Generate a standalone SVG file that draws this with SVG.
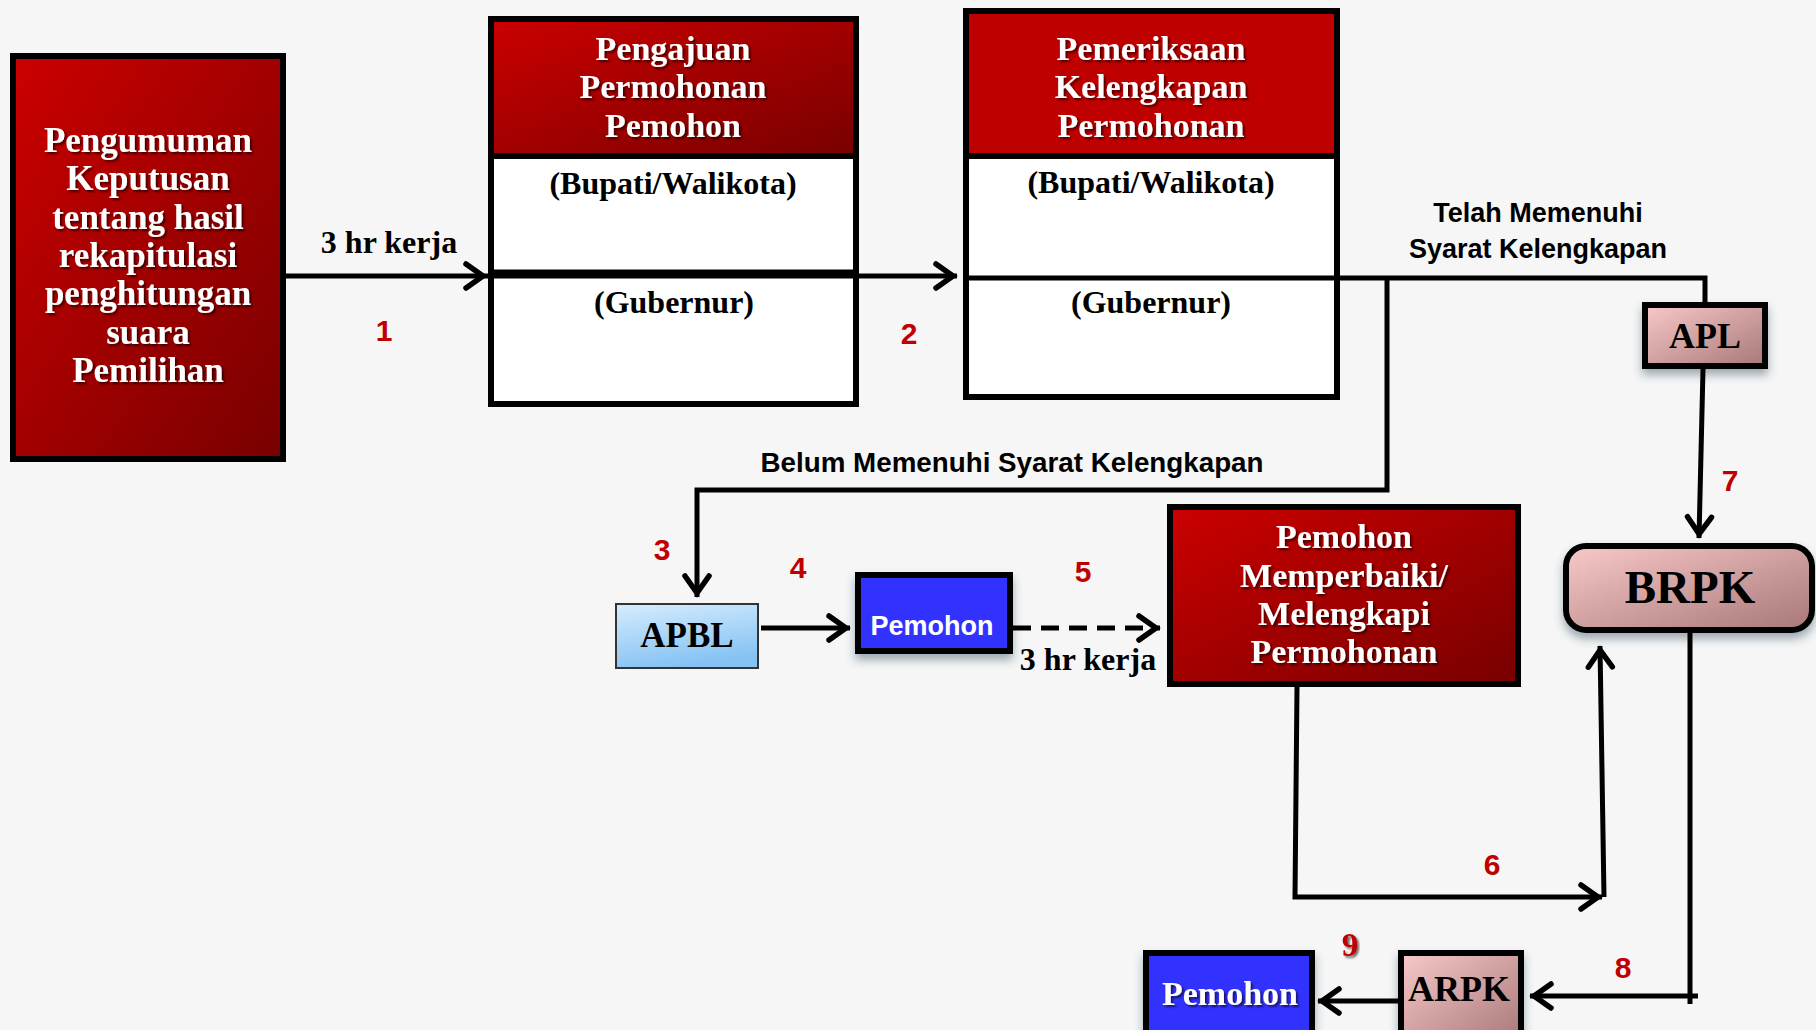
<svg xmlns="http://www.w3.org/2000/svg" width="1816" height="1030" viewBox="0 0 1816 1030">
<defs>
<style>
.ttl{font-family:"Liberation Serif",serif;font-weight:bold;font-size:34px;fill:#fff;text-anchor:middle}
.sub{font-family:"Liberation Serif",serif;font-weight:bold;font-size:32px;fill:#000;text-anchor:middle}
.big{font-family:"Liberation Serif",serif;font-weight:bold;fill:#000;text-anchor:middle}
.lbl{font-family:"Liberation Sans",sans-serif;font-weight:bold;font-size:27px;fill:#000;text-anchor:middle}
.num{font-family:"Liberation Sans",sans-serif;font-weight:bold;font-size:30px;fill:#c00000;text-anchor:middle}
.box{stroke:#000;stroke-width:6}
.edge{fill:none;stroke:#000;stroke-width:5}
</style>
<linearGradient id="red" x1="0" y1="0" x2="1" y2="1">
<stop offset="0" stop-color="#cc0000"/><stop offset="1" stop-color="#780000"/>
</linearGradient>
<linearGradient id="pink" x1="0" y1="0" x2="1" y2="1">
<stop offset="0" stop-color="#f9c9c9"/><stop offset="1" stop-color="#a87878"/>
</linearGradient>
<linearGradient id="lblue" x1="0" y1="0" x2="0.3" y2="1">
<stop offset="0" stop-color="#d6ecfd"/><stop offset="1" stop-color="#86c3f4"/>
</linearGradient>
<filter id="tsh" x="-10%" y="-10%" width="120%" height="130%">
<feDropShadow dx="2" dy="2" stdDeviation="1" flood-color="#000" flood-opacity="0.6"/>
</filter>
<filter id="bsh" x="-20%" y="-20%" width="140%" height="160%">
<feDropShadow dx="0" dy="6" stdDeviation="5" flood-color="#2a4a5a" flood-opacity="0.45"/>
</filter>
<marker id="arr" markerUnits="userSpaceOnUse" viewBox="-30 -18 34 36" markerWidth="34" markerHeight="36" refX="0" refY="0" orient="auto" overflow="visible">
<path d="M-21,-12 L-4,0 L-21,12" fill="none" stroke="#000" stroke-width="5.5" stroke-linecap="round" stroke-linejoin="miter"/>
</marker>
</defs>
<rect x="0" y="0" width="1816" height="1030" fill="#f6f6f6"/>

<g id="pengumuman">
<rect class="box" x="13" y="56" width="270" height="403" fill="url(#red)"/>
<g filter="url(#tsh)" font-size="35">
<text class="ttl" x="148" y="152" style="font-size:35px">Pengumuman</text>
<text class="ttl" x="148" y="190" style="font-size:35px">Keputusan</text>
<text class="ttl" x="148" y="229" style="font-size:35px">tentang hasil</text>
<text class="ttl" x="148" y="267" style="font-size:35px">rekapitulasi</text>
<text class="ttl" x="148" y="305" style="font-size:35px">penghitungan</text>
<text class="ttl" x="148" y="344" style="font-size:35px">suara</text>
<text class="ttl" x="148" y="382" style="font-size:35px">Pemilihan</text>
</g>
</g>

<g id="pengajuan">
<rect class="box" x="491" y="19" width="365" height="385" fill="#fff"/>
<rect class="box" x="491" y="19" width="365" height="137" fill="url(#red)"/>
<line x1="488" y1="272" x2="859" y2="272" stroke="#000" stroke-width="5"/>
<g filter="url(#tsh)">
<text class="ttl" x="673" y="60">Pengajuan</text>
<text class="ttl" x="673" y="98">Permohonan</text>
<text class="ttl" x="673" y="137">Pemohon</text>
</g>
<text class="sub" x="673" y="194">(Bupati/Walikota)</text>
<text class="sub" x="674" y="313">(Gubernur)</text>
</g>

<g id="pemeriksaan">
<rect class="box" x="966" y="11" width="371" height="386" fill="#fff"/>
<rect class="box" x="966" y="11" width="371" height="145" fill="#bf0000"/>
<line x1="963" y1="278" x2="1340" y2="278" stroke="#000" stroke-width="5"/>
<g filter="url(#tsh)">
<text class="ttl" x="1151" y="60">Pemeriksaan</text>
<text class="ttl" x="1151" y="98">Kelengkapan</text>
<text class="ttl" x="1151" y="137">Permohonan</text>
</g>
<text class="sub" x="1151" y="193">(Bupati/Walikota)</text>
<text class="sub" x="1151" y="313">(Gubernur)</text>
</g>

<g id="apl">
<rect class="box" x="1645" y="305" width="120" height="61" fill="url(#pink)" filter="url(#bsh)"/>
<text class="big" x="1705" y="348" font-size="36">APL</text>
</g>

<g id="brpk">
<rect class="box" x="1566" y="546" width="246" height="84" rx="20" fill="url(#pink)" filter="url(#bsh)"/>
<text class="big" x="1690" y="603" font-size="47">BRPK</text>
</g>

<g id="apbl">
<rect x="616" y="604" width="142" height="64" fill="url(#lblue)" stroke="#333" stroke-width="2"/>
<text class="big" x="687" y="647" font-size="35">APBL</text>
</g>

<g id="pemohon1">
<rect class="box" x="858" y="575" width="152" height="76" fill="#3333ff" filter="url(#bsh)"/>
<text x="932" y="635" font-family="'Liberation Sans',sans-serif" font-weight="bold" font-size="27" fill="#fff" text-anchor="middle">Pemohon</text>
</g>

<g id="memperbaiki">
<rect class="box" x="1170" y="507" width="348" height="177" fill="url(#red)"/>
<g filter="url(#tsh)">
<text class="ttl" x="1344" y="548">Pemohon</text>
<text class="ttl" x="1344" y="587">Memperbaiki/</text>
<text class="ttl" x="1344" y="625">Melengkapi</text>
<text class="ttl" x="1344" y="663">Permohonan</text>
</g>
</g>

<g id="arpk">
<rect class="box" x="1401" y="953" width="120" height="90" fill="url(#pink)" filter="url(#bsh)"/>
<text class="big" x="1459" y="1001" font-size="36">ARPK</text>
</g>

<g id="pemohon2">
<rect class="box" x="1146" y="953" width="166" height="90" fill="#3333ff" filter="url(#bsh)"/>
<text class="ttl" x="1230" y="1005" font-size="35" filter="url(#tsh)">Pemohon</text>
</g>

<g id="connectors">
<path class="edge" d="M286,276 H487" marker-end="url(#arr)"/>
<path class="edge" d="M487,276 H957" marker-end="url(#arr)"/>
<path class="edge" d="M1337,278 H1705 V303"/>
<path class="edge" d="M1387,278 V490 H697 V597" marker-end="url(#arr)"/>
<path class="edge" d="M761,628 H850" marker-end="url(#arr)"/>
<path class="edge" d="M1013,628 H1160" stroke-dasharray="18 10" marker-end="url(#arr)"/>
<path class="edge" d="M1703,369 L1699,538" marker-end="url(#arr)"/>
<path class="edge" d="M1297,687 L1295,897 H1602" marker-end="url(#arr)"/>
<path class="edge" d="M1604,897 L1600,646" marker-end="url(#arr)"/>
<path class="edge" d="M1690,633 V1004"/>
<path class="edge" d="M1698,996 H1530" marker-end="url(#arr)"/>
<path class="edge" d="M1398,1001 H1318" marker-end="url(#arr)"/>
</g>

<g id="labels">
<text class="sub" x="389" y="253" font-size="31">3 hr kerja</text>
<text class="sub" x="1088" y="670" font-size="30">3 hr kerja</text>
<text class="lbl" x="1538" y="222">Telah Memenuhi</text>
<text class="lbl" x="1538" y="258">Syarat Kelengkapan</text>
<text class="lbl" x="1012" y="472" textLength="503" lengthAdjust="spacingAndGlyphs">Belum Memenuhi Syarat Kelengkapan</text>
<text class="num" x="384" y="341">1</text>
<text class="num" x="909" y="344">2</text>
<text class="num" x="662" y="560">3</text>
<text class="num" x="798" y="578">4</text>
<text class="num" x="1083" y="582">5</text>
<text class="num" x="1492" y="875">6</text>
<text class="num" x="1730" y="491">7</text>
<text class="num" x="1623" y="978">8</text>
<text x="1350" y="956" font-family="'Liberation Serif',serif" font-weight="bold" font-size="33" fill="#c00000" text-anchor="middle" filter="url(#tsh)">9</text>
</g>
</svg>
